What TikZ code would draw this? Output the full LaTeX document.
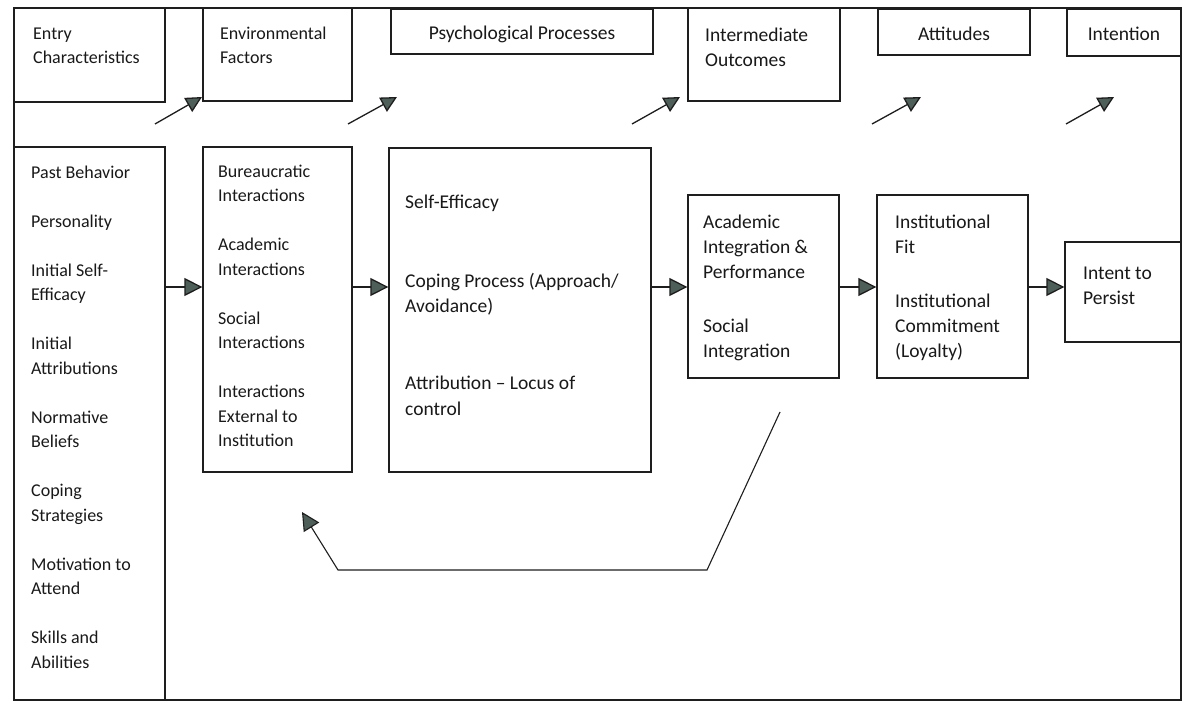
\documentclass[tikz,border=0pt]{standalone}
\usepackage{fontspec}
\setmainfont{Carlito}
\usetikzlibrary{arrows.meta,fit}
\definecolor{linec}{RGB}{30,30,30}
\definecolor{headfill}{RGB}{78,94,89}
\begin{document}
\begin{tikzpicture}[x=1pt,y=-1pt,
  box/.style={draw=linec, line width=1.3pt, inner sep=0pt},
  listsm/.style={anchor=north west, inner sep=0pt, align=left, text=black!90,
    font=\fontsize{18}{24.5}\selectfont},
  listlg/.style={anchor=north west, inner sep=0pt, align=left, text=black!90,
    font=\fontsize{19.5}{25}\selectfont},
  headc/.style={anchor=base, inner sep=0pt, text=black!90,
    font=\fontsize{19.5}{25}\selectfont},
  flow/.style={draw=linec, line width=1.3pt,
    -{Triangle[length=18pt,width=18pt,fill=headfill]}},
  small/.style={draw=linec, line width=1.3pt,
    -{Triangle[length=16pt,width=16pt,fill=headfill]}}
]
\useasboundingbox (0,0) rectangle (1188,703);
\fill[white] (0,0) rectangle (1188,703);

% outer frame
\node[box, fit={(14,8)(1181,700)}] (frame) {};

% header boxes
\node[box, fit={(14,8)(165,102)}] (hEntry) {};
\node[box, fit={(203,8)(352,101)}] (hEnv) {};
\node[box, fit={(391,9)(653,54)}] (hPsy) {};
\node[box, fit={(688,8)(840,101)}] (hInt) {};
\node[box, fit={(878,9)(1030,55)}] (hAtt) {};
\node[box, fit={(1067,9)(1181,56)}] (hIntn) {};

% header texts
\node[listsm] (tEntry) at (33,21.85) {\strut Entry\\Characteristics};
\node[listsm] (tEnv) at (220,21.85) {\strut Environmental\\Factors};
\node[headc] (tPsy) at (hPsy.center |- 0,40) {Psychological Processes};
\node[listlg] (tInt) at (705,23.5) {\strut Intermediate\\Outcomes};
\node[headc] (tAtt) at (hAtt.center |- 0,41) {Attitudes};
\node[headc] (tIntn) at (hIntn.center |- 0,41) {Intention};

% main boxes
\node[box, fit={(14,147)(165,700)}] (entry) {};
\node[box, fit={(203,147)(352,472)}] (env) {};
\node[box, fit={(389,148)(651,472)}] (psy) {};
\node[box, fit={(688,195)(839,378)}] (inter) {};
\node[box, fit={(877,195)(1028,378)}] (att) {};
\node[box, fit={(1065,242)(1181,342)}] (intent) {};

% main box texts
\node[listsm] (lEntry) at (31,160.85) {\strut Past Behavior\\[24.5pt]Personality\\[24.5pt]Initial Self-\\Efficacy\\[24.5pt]Initial\\Attributions\\[24.5pt]Normative\\Beliefs\\[24.5pt]Coping\\Strategies\\[24.5pt]Motivation to\\Attend\\[24.5pt]Skills and\\Abilities};
\node[listsm] (lEnv) at (218,159.85) {\strut Bureaucratic\\Interactions\\[24.5pt]Academic\\Interactions\\[24.5pt]Social\\Interactions\\[24.5pt]Interactions\\External to\\Institution};
\node[listlg, font=\fontsize{19.5}{25.5}\selectfont] (lPsy) at (405,190.15) {\strut Self-Efficacy\\[53.5pt]Coping Process (Approach/\\Avoidance)\\[51.5pt]Attribution – Locus of\\control};
\node[listlg] (lInt) at (703,210.5) {\strut Academic\\Integration \&\\Performance\\[29pt]Social\\Integration};
\node[listlg] (lAtt) at (895,210.5) {\strut Institutional\\Fit\\[29pt]Institutional\\Commitment\\(Loyalty)};
\node[listlg] (lIntent) at (1083,261.5) {\strut Intent to\\Persist};

% flow arrows
\coordinate (ay) at (0,287);
\draw[flow] (entry.east |- ay) -- (env.west |- ay);
\draw[flow] (env.east |- ay) -- (psy.west |- ay);
\draw[flow] (psy.east |- ay) -- (inter.west |- ay);
\draw[flow] (inter.east |- ay) -- (att.west |- ay);
\draw[flow] (att.east |- ay) -- (intent.west |- ay);

% small diagonal arrows
\coordinate (d1s) at (155,124); \coordinate (d1e) at (202,97);
\coordinate (d2s) at (348,124); \coordinate (d2e) at (397,97);
\coordinate (d3s) at (632,124); \coordinate (d3e) at (680,97);
\coordinate (d4s) at (872,124); \coordinate (d4e) at (921,97);
\coordinate (d5s) at (1066,124); \coordinate (d5e) at (1114,97);
\draw[small] (d1s) -- (d1e);
\draw[small] (d2s) -- (d2e);
\draw[small] (d3s) -- (d3e);
\draw[small] (d4s) -- (d4e);
\draw[small] (d5s) -- (d5e);

% feedback arrow
\coordinate (fbs) at (780,412);
\coordinate (fb1) at (707,570);
\coordinate (fb2) at (338,570);
\coordinate (fbe) at (302,512);
\draw[flow, line width=1.1pt] (fbs) -- (fb1) -- (fb2) -- (fbe);
\end{tikzpicture}
\end{document}
